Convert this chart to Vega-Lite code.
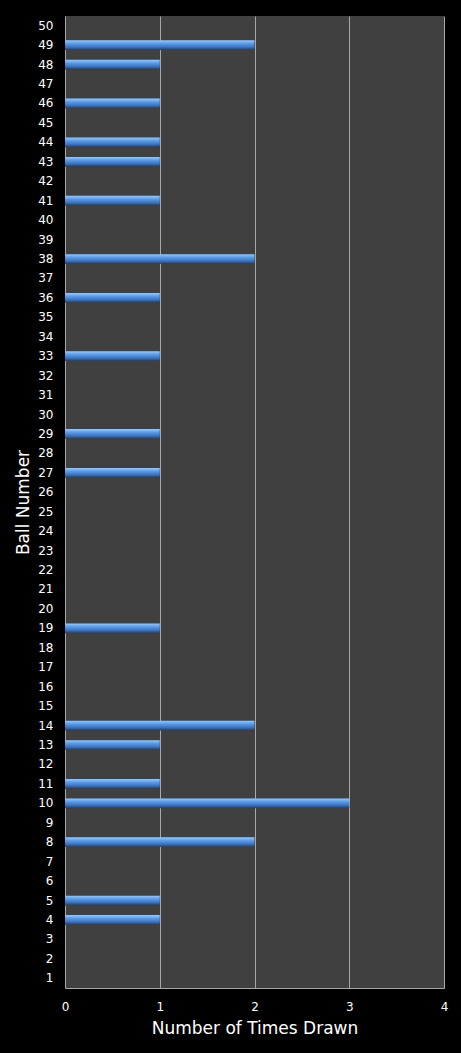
{
  "$schema": "https://vega.github.io/schema/vega-lite/v6.json",
  "width": 379,
  "height": 972,
  "autosize": {"type": "none"},
  "padding": {"left": 65, "top": 16, "right": 17, "bottom": 65},
  "background": "#000000",
  "config": {
    "view": {"fill": "#404040", "stroke": null},
    "font": "DejaVu Sans"
  },
  "data": {
    "values": [
      {"ball": 1, "times": 0}, {"ball": 2, "times": 0}, {"ball": 3, "times": 0},
      {"ball": 4, "times": 1}, {"ball": 5, "times": 1}, {"ball": 6, "times": 0},
      {"ball": 7, "times": 0}, {"ball": 8, "times": 2}, {"ball": 9, "times": 0},
      {"ball": 10, "times": 3}, {"ball": 11, "times": 1}, {"ball": 12, "times": 0},
      {"ball": 13, "times": 1}, {"ball": 14, "times": 2}, {"ball": 15, "times": 0},
      {"ball": 16, "times": 0}, {"ball": 17, "times": 0}, {"ball": 18, "times": 0},
      {"ball": 19, "times": 1}, {"ball": 20, "times": 0}, {"ball": 21, "times": 0},
      {"ball": 22, "times": 0}, {"ball": 23, "times": 0}, {"ball": 24, "times": 0},
      {"ball": 25, "times": 0}, {"ball": 26, "times": 0}, {"ball": 27, "times": 1},
      {"ball": 28, "times": 0}, {"ball": 29, "times": 1}, {"ball": 30, "times": 0},
      {"ball": 31, "times": 0}, {"ball": 32, "times": 0}, {"ball": 33, "times": 1},
      {"ball": 34, "times": 0}, {"ball": 35, "times": 0}, {"ball": 36, "times": 1},
      {"ball": 37, "times": 0}, {"ball": 38, "times": 2}, {"ball": 39, "times": 0},
      {"ball": 40, "times": 0}, {"ball": 41, "times": 1}, {"ball": 42, "times": 0},
      {"ball": 43, "times": 1}, {"ball": 44, "times": 1}, {"ball": 45, "times": 0},
      {"ball": 46, "times": 1}, {"ball": 47, "times": 0}, {"ball": 48, "times": 1},
      {"ball": 49, "times": 2}, {"ball": 50, "times": 0}
    ]
  },
  "mark": {
    "type": "bar",
    "color": {
      "gradient": "linear",
      "x1": 0, "y1": 0, "x2": 0, "y2": 1,
      "stops": [
        {"offset": 0, "color": "#9cc8f4"},
        {"offset": 0.35, "color": "#5a9ae4"},
        {"offset": 0.7, "color": "#3a74c0"},
        {"offset": 1, "color": "#1e3e6e"}
      ]
    }
  },
  "encoding": {
    "y": {
      "field": "ball",
      "type": "ordinal",
      "sort": "descending",
      "scale": {"paddingInner": 0.5, "paddingOuter": 0.25},
      "title": "Ball Number",
      "axis": {
        "domain": false,
        "ticks": false,
        "labelColor": "#ffffff",
        "labelFontSize": 12,
        "labelPadding": 12,
        "titleColor": "#ffffff",
        "titleFontSize": 17,
        "titleFontWeight": "normal",
        "titlePadding": 5
      }
    },
    "x": {
      "field": "times",
      "type": "quantitative",
      "scale": {"domain": [0, 4]},
      "title": "Number of Times Drawn",
      "axis": {
        "values": [0, 1, 2, 3, 4],
        "format": "d",
        "grid": true,
        "gridColor": "#a8a8a8",
        "gridWidth": 1,
        "domainColor": "#a8a8a8",
        "ticks": false,
        "labelColor": "#ffffff",
        "labelFontSize": 12,
        "labelPadding": 13,
        "labelFlush": false,
        "titleColor": "#ffffff",
        "titleFontSize": 17,
        "titleFontWeight": "normal",
        "titlePadding": 8
      }
    }
  }
}
